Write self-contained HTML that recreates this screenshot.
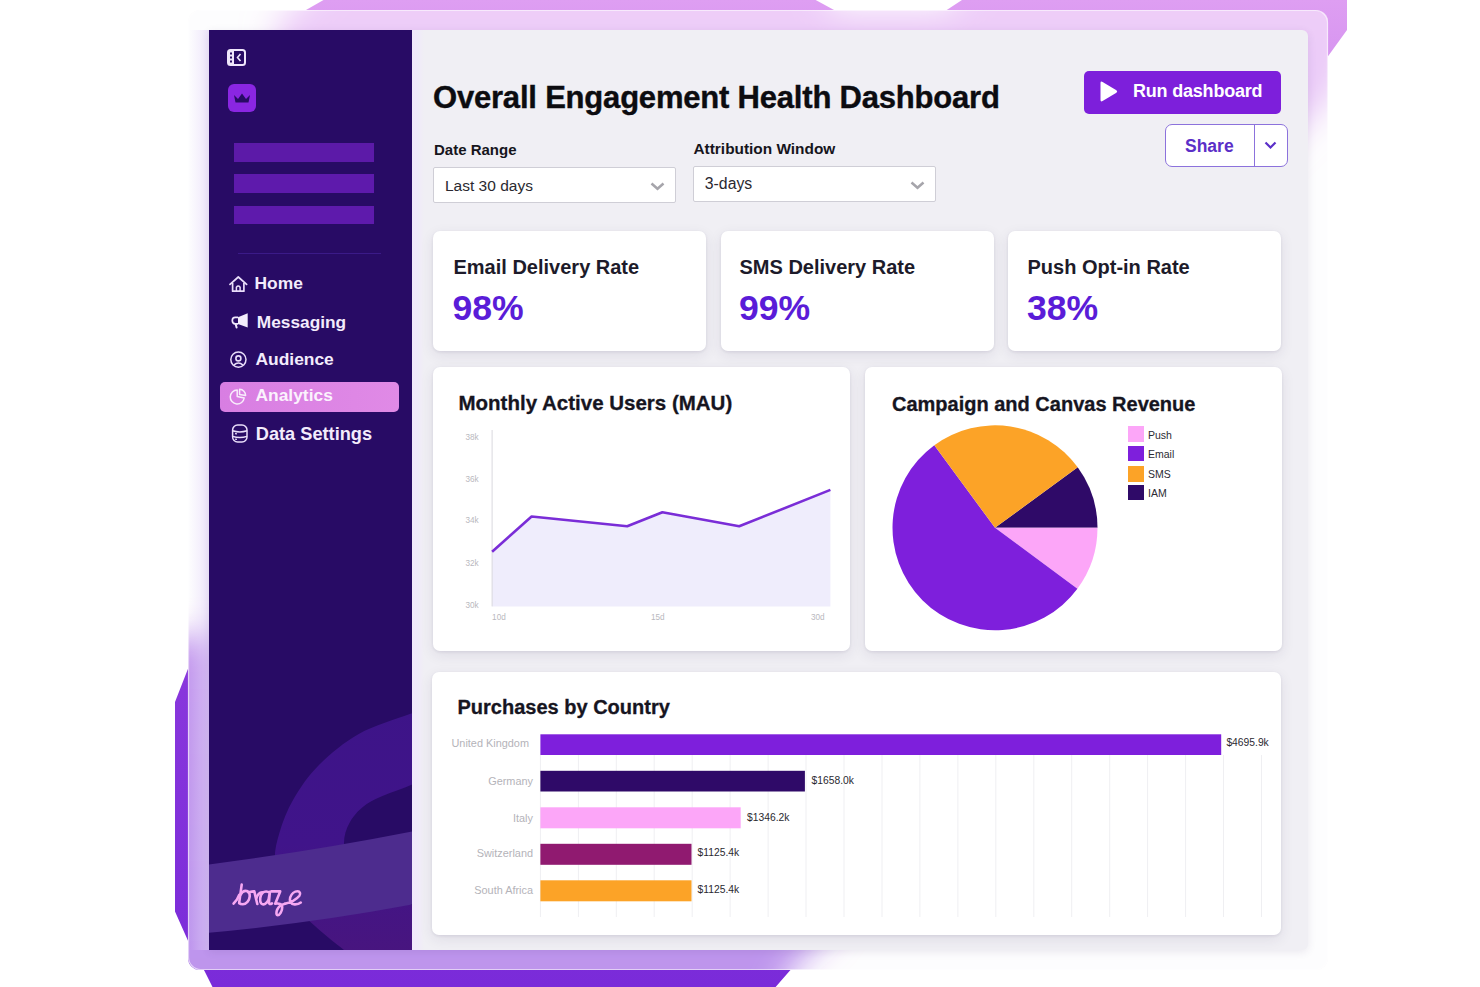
<!DOCTYPE html>
<html><head><meta charset="utf-8">
<style>
*{margin:0;padding:0;box-sizing:border-box}
html,body{width:1480px;height:987px;overflow:hidden;background:#fff;font-family:"Liberation Sans",sans-serif}
.a{position:absolute}
.t{position:absolute;white-space:nowrap;line-height:1}
.b{font-weight:700}
#blob{position:absolute;left:0;top:0}
#glass{position:absolute;left:188px;top:10px;width:1140px;height:960px;border-radius:12px;
  background:rgba(255,255,255,0.45);backdrop-filter:blur(18px);-webkit-backdrop-filter:blur(18px);
  box-shadow:inset 0 0 0 1px rgba(255,255,255,0.7)}
#panel{position:absolute;left:209px;top:30px;width:1099px;height:920px;border-radius:0 6px 6px 0;background:#f0eff4;box-shadow:0 2px 8px rgba(60,40,100,0.10)}
#side{position:absolute;left:209px;top:30px;width:203px;height:920px;background:#280b65;overflow:hidden}
.card{position:absolute;background:#fff;border-radius:7px;box-shadow:0 1px 3px rgba(40,30,80,0.09),0 4px 14px rgba(40,30,80,0.09)}
.sel{position:absolute;background:#fff;border:1.5px solid #cfced6;border-radius:2px}
</style></head><body>

<svg id="blob" width="1480" height="987" viewBox="0 0 1480 987">
  <defs>
    <linearGradient id="bg1" x1="0" y1="0" x2="0" y2="987" gradientUnits="userSpaceOnUse">
      <stop offset="0" stop-color="#de9ef2"/>
      <stop offset="0.35" stop-color="#b36ae6"/>
      <stop offset="0.7" stop-color="#8836dc"/>
      <stop offset="1" stop-color="#7a2bd9"/>
    </linearGradient>
    <filter id="gblur" x="-20%" y="-20%" width="140%" height="140%"><feGaussianBlur stdDeviation="16"/></filter>
    <clipPath id="gclip"><rect x="188" y="10" width="1140" height="960" rx="12"/></clipPath>
  </defs>
  <polygon id="bp" fill="url(#bg1)" points="327,-2 812,-2 835,10.5 946,10.5 965,-2 1347,-2 1347,30 1300,95 1200,200 830,930 790,970.5 773,990 214,990 204.5,971 188,940.7 175,911.5 175,702 187.5,670 198,645 240,615 300,590 300,80 271,30"/>
  <rect x="188" y="10" width="1140" height="960" rx="12" fill="#fbfafc"/>
  <g clip-path="url(#gclip)"><polygon fill="url(#bg1)" filter="url(#gblur)" points="345,-40 812,-40 835,10.5 946,10.5 985,-40 1400,-40 1360,40 1328,100 1200,230 830,930 790,970.5 760,1040 130,1040 130,640 300,630 300,80 271,30"/></g>
  <rect x="188.5" y="10.5" width="1139" height="959" rx="12" fill="rgba(255,255,255,0.5)" stroke="rgba(255,255,255,0.7)" stroke-width="1.2"/>
</svg>

<div class="a" style="left:189px;top:30px;width:20px;height:920px;background:linear-gradient(90deg,rgba(225,210,248,0),rgba(225,210,248,0.55))"></div>
<div id="panel"></div>
<div id="main">
  <!-- sidebar right glow -->
  <div class="a" style="left:412px;top:30px;width:12px;height:920px;background:linear-gradient(90deg,#f1e8fc 0%,#f0e9fa 40%,rgba(240,239,244,0) 100%)"></div>
  <div class="t b" style="left:433px;top:82px;font-size:31px;letter-spacing:-0.2px;color:#0c0c10;-webkit-text-stroke:0.4px #0c0c10">Overall Engagement Health Dashboard</div>
  <div class="t b" style="left:434px;top:142.4px;font-size:15px;color:#16151c">Date Range</div>
  <div class="sel" style="left:433px;top:167px;width:243px;height:36px"></div>
  <div class="t" style="left:445px;top:177.5px;font-size:15.5px;color:#2a2930">Last 30 days</div>
  <svg class="a" style="left:650px;top:181px" width="15" height="10" viewBox="0 0 15 10"><path d="M1.5,2.5 L7.5,7.8 L13.5,2.5" fill="none" stroke="#a6a5ab" stroke-width="2.5"/></svg>
  <div class="t b" style="left:693.5px;top:140.6px;font-size:15.4px;color:#16151c">Attribution Window</div>
  <div class="sel" style="left:693px;top:165.5px;width:243px;height:36px"></div>
  <div class="t" style="left:704.8px;top:176.2px;font-size:15.8px;color:#2a2930">3-days</div>
  <svg class="a" style="left:910px;top:179.5px" width="15" height="10" viewBox="0 0 15 10"><path d="M1.5,2.5 L7.5,7.8 L13.5,2.5" fill="none" stroke="#a6a5ab" stroke-width="2.5"/></svg>
  <!-- run dashboard -->
  <div class="a" style="left:1084px;top:71px;width:197px;height:43px;border-radius:5px;background:#7d1fdb"></div>
  <svg class="a" style="left:1099px;top:80px" width="20" height="24" viewBox="0 0 20 24"><path d="M1.5,3 Q1.5,0.8 3.6,2 L17.4,10.3 Q19,11.5 17.4,12.7 L3.6,21 Q1.5,22.2 1.5,20 Z" fill="#fff"/></svg>
  <div class="t b" style="left:1133px;top:82.1px;font-size:18px;letter-spacing:-0.2px;color:#fff">Run dashboard</div>
  <!-- share -->
  <div class="a" style="left:1165px;top:124px;width:123px;height:42.5px;border-radius:7px;background:#fff;border:1.5px solid #8c72dc"></div>
  <div class="a" style="left:1253.8px;top:124.5px;width:1.5px;height:42px;background:#8c72dc"></div>
  <div class="t b" style="left:1185px;top:137.7px;font-size:17.5px;color:#5b2fc8">Share</div>
  <svg class="a" style="left:1263px;top:140px" width="15" height="11" viewBox="0 0 15 11"><path d="M2.5,2.5 L7.5,7.5 L12.5,2.5" fill="none" stroke="#5b2fc8" stroke-width="2.2"/></svg>

  <!-- KPI cards -->
  <div class="card" style="left:433px;top:231px;width:273px;height:120px"></div>
  <div class="card" style="left:721px;top:231px;width:273px;height:120px"></div>
  <div class="card" style="left:1008px;top:231px;width:273px;height:120px"></div>
  <div class="t b" style="left:453.5px;top:257.4px;font-size:20px;color:#1d1b2a">Email Delivery Rate</div>
  <div class="t b" style="left:739.5px;top:257.4px;font-size:20px;color:#1d1b2a">SMS Delivery Rate</div>
  <div class="t b" style="left:1027.5px;top:257.4px;font-size:20px;color:#1d1b2a">Push Opt-in Rate</div>
  <div class="t b" style="left:452.5px;top:291.2px;font-size:35.6px;color:#5a1cd8">98%</div>
  <div class="t b" style="left:739px;top:291.2px;font-size:35.6px;color:#5a1cd8">99%</div>
  <div class="t b" style="left:1027px;top:291.2px;font-size:35.6px;color:#5a1cd8">38%</div>

  <!-- chart cards -->
  <div class="card" style="left:433px;top:367px;width:417px;height:284px"></div>
  <div class="card" style="left:864.5px;top:367px;width:417px;height:284px"></div>
  <div class="card" style="left:432px;top:671.5px;width:849px;height:263px"></div>
</div>
<div id="side">
  <svg class="a" style="left:0;top:0" width="203" height="920" viewBox="209 30 203 920">
    <defs><linearGradient id="ringg" x1="0" y1="700" x2="0" y2="960" gradientUnits="userSpaceOnUse"><stop offset="0" stop-color="#3d1488"/><stop offset="0.55" stop-color="#40148a"/><stop offset="1" stop-color="#48157e"/></linearGradient></defs>
    <!-- ring -->
    <path d="M440.0,703.0 C435.0,704.8 423.3,708.9 409.8,714.0 C396.3,719.1 373.9,725.4 358.8,733.9 C343.7,742.4 329.9,754.1 319.0,765.0 C308.1,775.9 300.2,787.7 293.6,799.0 C287.0,810.3 282.5,822.5 279.4,833.0 C276.3,843.5 274.2,851.7 275.0,862.0 C275.8,872.3 277.3,884.3 284.0,895.0 C290.7,905.7 305.0,916.8 315.0,926.0 C325.0,935.2 336.5,944.0 344.0,950.0 C351.5,956.0 357.3,960.0 360.0,962.0 L440,962 Z" fill="url(#ringg)"/>
    <path d="M275,880 L440,880 L440,962 L330,962 Z" fill="#47167f" clip-path="none" opacity="0"/>
    <path d="M440.0,772.0 C435.2,774.2 422.7,780.0 411.0,785.0 C399.3,790.0 380.2,795.8 370.0,802.0 C359.8,808.2 354.3,814.8 350.0,822.0 C345.7,829.2 343.7,837.3 344.0,845.0 C344.3,852.7 346.3,860.5 352.0,868.0 C357.7,875.5 368.0,883.8 378.0,890.0 C388.0,896.2 401.7,901.3 412.0,905.0 C422.3,908.7 435.3,910.8 440.0,912.0 Z" fill="#280b65"/>
    <!-- band -->
    <path d="M200,865.5 Q310,852 420,830 L420,903 Q310,924 200,933.5 Z" fill="#4d2c8e"/>
  </svg>
  <!-- collapse icon -->
  <svg class="a" style="left:18px;top:19px" width="20" height="17" viewBox="0 0 20 17">
    <rect x="1" y="1" width="17" height="15" rx="2.5" fill="none" stroke="#efe6fb" stroke-width="2"/>
    <rect x="1" y="1" width="6" height="15" rx="1" fill="#efe6fb"/>
    <rect x="3" y="3.5" width="2" height="2" fill="#280b65"/>
    <rect x="3" y="7.5" width="2" height="2" fill="#280b65"/>
    <rect x="3" y="11.5" width="2" height="2" fill="#280b65"/>
    <path d="M13.5,5 L10.5,8.5 L13.5,12" fill="none" stroke="#efe6fb" stroke-width="1.6"/>
  </svg>
  <!-- crown box -->
  <div class="a" style="left:19px;top:54px;width:28px;height:28px;border-radius:6px;background:#8a26e2"></div>
  <svg class="a" style="left:24px;top:62px" width="18" height="12" viewBox="0 0 18 12">
    <path d="M1,3 L5,7 L9,1.5 L13,7 L17,3 L15.5,10.5 L2.5,10.5 Z" fill="#280b65"/>
  </svg>
  <!-- bars -->
  <div class="a" style="left:25px;top:113px;width:140px;height:19px;background:#5c1aa8"></div>
  <div class="a" style="left:25px;top:144px;width:140px;height:19px;background:#5e1aac"></div>
  <div class="a" style="left:25px;top:176px;width:140px;height:18px;background:#5e1aac"></div>
  <div class="a" style="left:29px;top:222.5px;width:143px;height:1px;background:#3b1a88"></div>
  <!-- analytics highlight -->
  <div class="a" style="left:11px;top:351.5px;width:179px;height:30px;border-radius:5px;background:linear-gradient(90deg,#d87ee2,#e08ae6)"></div>
  <!-- nav icons -->
  <svg class="a" style="left:20px;top:245px" width="20" height="18" viewBox="0 0 20 18">
    <path d="M1,9.4 L9.3,2 L17.6,9.4" fill="none" stroke="#e9defa" stroke-width="1.7" stroke-linecap="round" stroke-linejoin="round"/>
    <path d="M3.6,8 L3.6,16.2 L14.9,16.2 L14.9,8" fill="none" stroke="#e9defa" stroke-width="1.7" stroke-linejoin="round"/>
    <path d="M7.4,16.2 L7.4,12.2 Q9.25,9.8 11.1,12.2 L11.1,16.2" fill="none" stroke="#e9defa" stroke-width="1.5"/>
  </svg>
  <svg class="a" style="left:22px;top:283px" width="18" height="16" viewBox="0 0 18 16">
    <path d="M7,4.2 L16.7,0.2 L16.7,14.6 L7,11 Z" fill="#f4eefc"/>
    <path d="M7.2,4.3 L4.2,4.3 Q1.3,4.3 1.3,7.6 Q1.3,10.9 4.2,10.9 L7.2,10.9" fill="none" stroke="#f0e8fc" stroke-width="1.7"/>
    <path d="M4.6,11 L5.6,14.6" fill="none" stroke="#f0e8fc" stroke-width="2" stroke-linecap="round"/>
  </svg>
  <svg class="a" style="left:20px;top:321px" width="18" height="18" viewBox="0 0 18 18">
    <circle cx="9.4" cy="8.6" r="7.6" fill="none" stroke="#e9defa" stroke-width="1.5"/>
    <circle cx="9.4" cy="7.4" r="2.5" fill="none" stroke="#e9defa" stroke-width="1.6"/>
    <path d="M4.8,14.2 Q9.4,9.8 14,14.2" fill="none" stroke="#e9defa" stroke-width="1.6"/>
  </svg>
  <svg class="a" style="left:20px;top:358px" width="18" height="18" viewBox="0 0 18 18">
    <path d="M8.2,2 A7,7 0 1 0 15.2,10 L8.2,8.6 Z" fill="none" stroke="#f8ecfb" stroke-width="1.5" stroke-linejoin="round"/>
    <path d="M10.6,1.2 A6.2,6.2 0 0 1 16.6,7.6 L10.6,6.4 Z" fill="none" stroke="#f8ecfb" stroke-width="1.5" stroke-linejoin="round"/>
  </svg>
  <svg class="a" style="left:22px;top:394px" width="18" height="19" viewBox="0 0 18 19">
    <rect x="1.6" y="1" width="14.4" height="17" rx="5" fill="none" stroke="#e9defa" stroke-width="1.5"/>
    <path d="M1.6,6.8 Q8.8,9.2 16,6.8 M1.6,12.4 Q8.8,14.8 16,12.4" fill="none" stroke="#e9defa" stroke-width="1.5"/>
    <path d="M4,9.6 L6,9.8 M4,15.2 L6,15.4" fill="none" stroke="#e9defa" stroke-width="1.3"/>
  </svg>
  <div class="t b" style="left:45.5px;top:244.7px;font-size:17.4px;color:#f3ecfc">Home</div>
  <div class="t b" style="left:47.8px;top:283.9px;font-size:17.3px;color:#f3ecfc">Messaging</div>
  <div class="t b" style="left:46.5px;top:320.7px;font-size:17.4px;color:#f3ecfc">Audience</div>
  <div class="t b" style="left:46.5px;top:357.3px;font-size:17.4px;color:#fbf2fd">Analytics</div>
  <div class="t b" style="left:46.8px;top:394.6px;font-size:18.2px;color:#f3ecfc">Data Settings</div>
  <!-- braze logo -->
  <svg class="a" style="left:16px;top:840px" width="85" height="55" viewBox="225 870 85 55">
    <g fill="none" stroke="#f6a8f2" stroke-width="2.6" stroke-linecap="round" stroke-linejoin="round">
      <path d="M233.6,903.6 C236,901.5 238,898.5 239.3,894.8"/>
      <path d="M241.7,884.6 L239.2,902.6"/>
      <path d="M240.4,895 C241.8,892.2 243.6,890.9 245.6,890.9 C248.6,890.9 250,893.4 249.7,896.6 C249.3,900.6 246.4,904.2 242.8,904.3 C241.2,904.3 240,903.9 239.2,903.2"/>
      <path d="M248.2,892.3 C250.5,891.8 252.5,891.2 254.3,891.4 L257.3,904.0"/>
      <path d="M256.4,898.2 C257.4,894.6 259.4,892.4 262.2,892.2"/>
      <path d="M269.6,893 C268,891.2 264.6,890.9 262.4,893 C260,895.4 259.4,901.4 261.2,903.4 C263.4,905.6 267,903.6 268.6,899.4 L269.9,891.8 L269,902 C268.8,904.2 270.2,904.6 272,903.4"/>
      <path d="M271.4,891.4 L280.2,891.4 L275.2,903.8 C278.6,903 282.2,904 282.2,907.2 C282.2,911.2 279.8,915.2 277.8,915.2 C276.2,915.2 276,912.2 277.2,909.6 C278.6,906.6 281.4,904.6 285,903.8"/>
      <path d="M285,903.8 C290,902.6 296.4,899.6 299.4,895.8 C301,893.6 299.8,891.2 297.6,891.2 C294.6,891.2 291.4,894 290.2,897.4 C289.2,900.6 290.6,904.2 294.6,904.4 C297.2,904.5 299.6,903.6 300.8,902.6"/>
    </g>
  </svg>
</div>
<div id="charts">
<svg class="a" style="left:0;top:0" width="1480" height="987" viewBox="0 0 1480 987">
  <!-- MAU -->
  <path d="M492.1,551.7 L531.6,516.5 L627.2,526.3 L662.4,512.3 L739.2,526.3 L830.4,489.9 L830.4,606.4 L492.1,606.4 Z" fill="#efedfc"/>
  <line x1="492.1" y1="430" x2="492.1" y2="606.4" stroke="#d9d8de" stroke-width="1"/>
  <path d="M492.1,551.7 L531.6,516.5 L627.2,526.3 L662.4,512.3 L739.2,526.3 L830.4,489.9" fill="none" stroke="#7a2dd7" stroke-width="2.6" stroke-linejoin="round"/>
  <!-- pie -->
  <path d="M995,527.8 L1077.71,467.26 A102.5,102.5 0 0 1 1097.50,527.80 Z" fill="#2f0a68"/><path d="M995,527.8 L1097.50,527.80 A102.5,102.5 0 0 1 1077.40,588.77 Z" fill="#fca6f8"/><path d="M995,527.8 L1077.40,588.77 A102.5,102.5 0 1 1 934.32,445.19 Z" fill="#7e1fdc"/><path d="M995,527.8 L934.32,445.19 A102.5,102.5 0 0 1 1077.71,467.26 Z" fill="#fca327"/>
  <!-- bars -->
  <line x1="540.4" y1="755" x2="540.4" y2="917" stroke="#efeff2" stroke-width="1"/><line x1="578.4" y1="755" x2="578.4" y2="917" stroke="#efeff2" stroke-width="1"/><line x1="616.3" y1="755" x2="616.3" y2="917" stroke="#efeff2" stroke-width="1"/><line x1="654.2" y1="755" x2="654.2" y2="917" stroke="#efeff2" stroke-width="1"/><line x1="692.2" y1="755" x2="692.2" y2="917" stroke="#efeff2" stroke-width="1"/><line x1="730.1" y1="755" x2="730.1" y2="917" stroke="#efeff2" stroke-width="1"/><line x1="768.1" y1="755" x2="768.1" y2="917" stroke="#efeff2" stroke-width="1"/><line x1="806.0" y1="755" x2="806.0" y2="917" stroke="#efeff2" stroke-width="1"/><line x1="844.0" y1="755" x2="844.0" y2="917" stroke="#efeff2" stroke-width="1"/><line x1="882.0" y1="755" x2="882.0" y2="917" stroke="#efeff2" stroke-width="1"/><line x1="919.9" y1="755" x2="919.9" y2="917" stroke="#efeff2" stroke-width="1"/><line x1="957.9" y1="755" x2="957.9" y2="917" stroke="#efeff2" stroke-width="1"/><line x1="995.8" y1="755" x2="995.8" y2="917" stroke="#efeff2" stroke-width="1"/><line x1="1033.8" y1="755" x2="1033.8" y2="917" stroke="#efeff2" stroke-width="1"/><line x1="1071.7" y1="755" x2="1071.7" y2="917" stroke="#efeff2" stroke-width="1"/><line x1="1109.7" y1="755" x2="1109.7" y2="917" stroke="#efeff2" stroke-width="1"/><line x1="1147.6" y1="755" x2="1147.6" y2="917" stroke="#efeff2" stroke-width="1"/><line x1="1185.6" y1="755" x2="1185.6" y2="917" stroke="#efeff2" stroke-width="1"/><line x1="1223.5" y1="755" x2="1223.5" y2="917" stroke="#efeff2" stroke-width="1"/><line x1="1261.5" y1="755" x2="1261.5" y2="917" stroke="#efeff2" stroke-width="1"/>
  <rect x="540.4" y="734.3" width="680.8" height="20.7" fill="#7e1fdc"/>
  <rect x="540.4" y="770.8" width="264.5" height="20.7" fill="#2f0a68"/>
  <rect x="540.4" y="807.3" width="200.3" height="21" fill="#fca6f8"/>
  <rect x="540.4" y="843.8" width="151.1" height="21" fill="#901a70"/>
  <rect x="540.4" y="880.3" width="151.1" height="21" fill="#fca327"/>
</svg>
  <div class="t b" style="left:458.5px;top:393px;font-size:20.5px;color:#16151f;-webkit-text-stroke:0.3px #16151f">Monthly Active Users (MAU)</div>
  <div class="t b" style="left:892px;top:393.5px;font-size:20px;color:#16151f;-webkit-text-stroke:0.3px #16151f">Campaign and Canvas Revenue</div>
  <div class="t b" style="left:457.5px;top:697.4px;font-size:20px;color:#16151f;-webkit-text-stroke:0.3px #16151f">Purchases by Country</div>
  <div class="t" style="left:465.5px;top:434.2px;font-size:8.2px;color:#b9b8be">38k</div>
  <div class="t" style="left:465.5px;top:476.0px;font-size:8.2px;color:#b9b8be">36k</div>
  <div class="t" style="left:465.5px;top:517.0px;font-size:8.2px;color:#b9b8be">34k</div>
  <div class="t" style="left:465.5px;top:559.7px;font-size:8.2px;color:#b9b8be">32k</div>
  <div class="t" style="left:465.5px;top:602.4px;font-size:8.2px;color:#b9b8be">30k</div>
  <div class="t" style="left:492.1px;top:614.4px;font-size:8.2px;color:#b9b8be">10d</div>
  <div class="t" style="left:651.0px;top:614.4px;font-size:8.2px;color:#b9b8be">15d</div>
  <div class="t" style="left:810.9px;top:614.4px;font-size:8.2px;color:#b9b8be">30d</div>
  <div class="a" style="left:1128.3px;top:426.2px;width:15.5px;height:15.5px;background:#fca6f8"></div>
  <div class="t" style="left:1148px;top:429.5px;font-size:10.5px;color:#2c2b33">Push</div>
  <div class="a" style="left:1128.3px;top:445.7px;width:15.5px;height:15.5px;background:#7e1fdc"></div>
  <div class="t" style="left:1148px;top:449.0px;font-size:10.5px;color:#2c2b33">Email</div>
  <div class="a" style="left:1128.3px;top:466.0px;width:15.5px;height:15.5px;background:#fca327"></div>
  <div class="t" style="left:1148px;top:469.3px;font-size:10.5px;color:#2c2b33">SMS</div>
  <div class="a" style="left:1128.3px;top:484.5px;width:15.5px;height:15.5px;background:#2f0a68"></div>
  <div class="t" style="left:1148px;top:487.8px;font-size:10.5px;color:#2c2b33">IAM</div>
  <div class="t" style="right:951px;top:737.5px;font-size:10.9px;color:#b4b3b9;text-align:right">United Kingdom</div>
  <div class="t" style="right:947px;top:775.5px;font-size:10.9px;color:#b4b3b9;text-align:right">Germany</div>
  <div class="t" style="right:947px;top:813.0px;font-size:10.9px;color:#b4b3b9;text-align:right">Italy</div>
  <div class="t" style="right:947px;top:848.0px;font-size:10.9px;color:#b4b3b9;text-align:right">Switzerland</div>
  <div class="t" style="right:947px;top:884.5px;font-size:10.9px;color:#b4b3b9;text-align:right">South Africa</div>
  <div class="t" style="left:1226.4px;top:737.5px;font-size:10.3px;color:#2a2930">$4695.9k</div>
  <div class="t" style="left:811.6px;top:775.5px;font-size:10.3px;color:#2a2930">$1658.0k</div>
  <div class="t" style="left:747.1px;top:813.0px;font-size:10.3px;color:#2a2930">$1346.2k</div>
  <div class="t" style="left:697.6px;top:848.0px;font-size:10.3px;color:#2a2930">$1125.4k</div>
  <div class="t" style="left:697.6px;top:884.5px;font-size:10.3px;color:#2a2930">$1125.4k</div>
</div>

</body></html>
